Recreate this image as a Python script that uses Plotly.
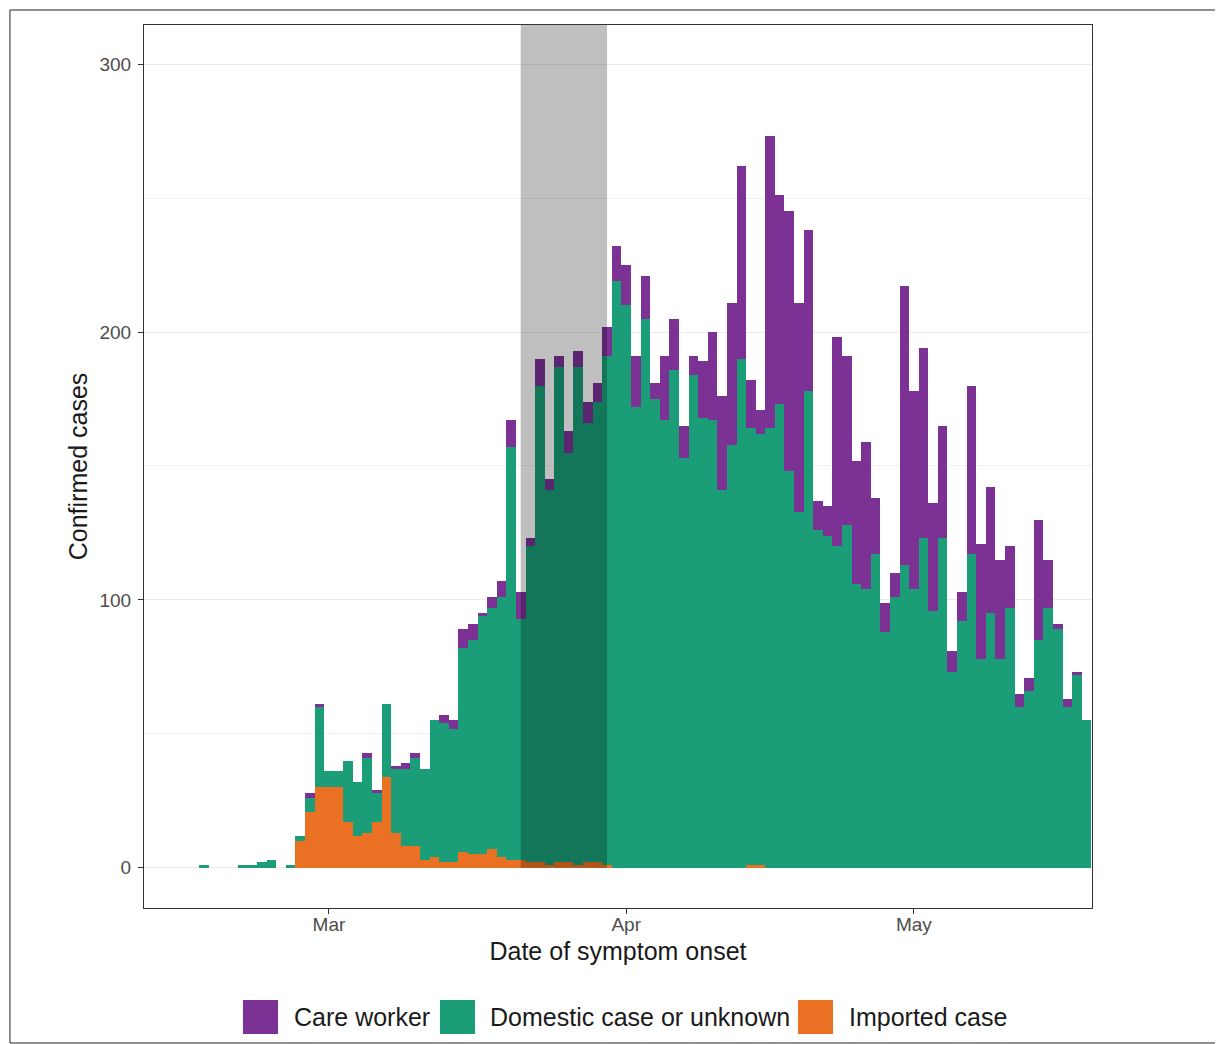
import pandas as pd
import plotly.graph_objects as go

# ---------------- data ----------------
dates = pd.date_range("2020-02-17", "2020-05-19", freq="D").strftime("%Y-%m-%d").tolist()

care_worker = [
    0, 0, 0, 0, 0, 0, 0, 0, 0, 0,
    0, 2, 1, 0, 0, 0, 0, 2, 1, 0, 1, 2, 2, 0,
    0, 3, 3, 7, 6, 1, 4, 6, 10, 10,
    3, 10, 4, 4, 8, 6, 8, 7, 11, 13,
    15, 19, 16, 6, 24, 19, 12, 7, 21, 33,
    35, 53, 72, 18, 9, 109, 78, 97, 78, 60,
    11, 11, 78, 63, 46, 55, 21, 11, 9, 104,
    74, 71, 40, 42, 8, 11, 63, 43, 47, 37,
    23, 5, 5, 45, 18, 2, 3, 1, 0,
]

domestic = [
    1, 0, 0, 0, 1, 1, 2, 3, 0, 1,
    2, 5, 30, 6, 6, 23, 20, 28, 11, 27, 24, 29, 33, 34,
    51, 52, 50, 76, 80, 89, 90, 97, 154, 90,
    118, 178, 140, 185, 153, 186, 164, 172, 190, 219,
    210, 172, 205, 175, 167, 186, 153, 184, 168, 167,
    141, 158, 190, 163, 161, 164, 173, 148, 133, 178,
    126, 124, 120, 128, 106, 104, 117, 88, 101, 113,
    104, 123, 96, 123, 73, 92, 117, 78, 95, 78,
    97, 60, 66, 85, 97, 89, 60, 72, 55,
]

imported = [
    0, 0, 0, 0, 0, 0, 0, 0, 0, 0,
    10, 21, 30, 30, 30, 17, 12, 13, 17, 34, 13, 8, 8, 3,
    4, 2, 2, 6, 5, 5, 7, 4, 3, 3,
    2, 2, 1, 2, 2, 1, 2, 2, 1, 0,
    0, 0, 0, 0, 0, 0, 0, 0, 0, 0,
    0, 0, 0, 1, 1, 0, 0, 0, 0, 0,
    0, 0, 0, 0, 0, 0, 0, 0, 0, 0,
    0, 0, 0, 0, 0, 0, 0, 0, 0, 0,
    0, 0, 0, 0, 0, 0, 0, 0, 0,
]

series_names = ["Care worker", "Domestic case or unknown", "Imported case"]
series_colors = ["#7B3294", "#1B9E77", "#EA7024"]

x_tick_vals = ["2020-03-01", "2020-04-01", "2020-05-01"]
x_tick_text = ["Mar", "Apr", "May"]
y_tick_vals = [0, 100, 200, 300]

shade_start = "2020-03-21"
shade_end = "2020-03-30"

# ---------------- figure ----------------
DAY_MS = 86400000
fig = go.Figure()
# stacking: bottom first
for name, vals, col in [
    (series_names[2], imported, series_colors[2]),
    (series_names[1], domestic, series_colors[1]),
    (series_names[0], care_worker, series_colors[0]),
]:
    fig.add_trace(go.Bar(
        x=dates, y=vals, name=name, width=DAY_MS,
        marker=dict(color=col, line=dict(width=0)),
        showlegend=False,
    ))

Y_MIN, Y_MAX = -15, 314.6

fig.add_shape(type="rect", xref="x", yref="y",
              x0=shade_start, x1=shade_end, y0=0, y1=Y_MAX,
              fillcolor="rgba(0,0,0,0.25)", line=dict(width=0), layer="above")

# outer frame
fig.add_shape(type="rect", xref="paper", yref="paper",
              x0=-0.1414, x1=1.1361, y0=-0.1529, y1=1.017,
              line=dict(color="#222", width=1), fillcolor="rgba(0,0,0,0)", layer="below")

# manual legend (large swatches)
sw_y0, sw_y1 = -0.1427, -0.1042
legend_items = [
    (series_names[0], series_colors[0], 0.1044, 0.1414, 0.1561),
    (series_names[1], series_colors[1], 0.3122, 0.3492, 0.3629),
    (series_names[2], series_colors[2], 0.6899, 0.7268, 0.7416),
]
for name, col, sx0, sx1, tx in legend_items:
    fig.add_shape(type="rect", xref="paper", yref="paper",
                  x0=sx0, x1=sx1, y0=sw_y0, y1=sw_y1,
                  fillcolor=col, line=dict(width=0))
    fig.add_annotation(xref="paper", yref="paper", x=tx, y=(sw_y0 + sw_y1) / 2,
                       text=name, showarrow=False, xanchor="left", yanchor="middle",
                       font=dict(size=25, color="#1a1a1a"))

FONT = "Liberation Sans, Arial, Helvetica, sans-serif"
fig.update_layout(
    width=1215, height=1036,
    margin=dict(l=136, r=131, t=17, b=136),
    paper_bgcolor="white", plot_bgcolor="white",
    barmode="stack", bargap=0,
    font=dict(family=FONT, color="#1a1a1a"),
    showlegend=False,
    xaxis=dict(
        type="date",
        range=["2020-02-10 17:15", "2020-05-19 13:40"],
        tickmode="array", tickvals=x_tick_vals, ticktext=x_tick_text,
        ticks="outside", ticklen=5, tickcolor="#333333",
        tickfont=dict(size=19, color="#4D4D4D"),
        ticklabelstandoff=-6,
        showgrid=False, zeroline=False,
        showline=True, mirror=True, linecolor="#333333", linewidth=1,
        title=dict(text="Date of symptom onset", font=dict(size=25, color="#1a1a1a"), standoff=8),
    ),
    yaxis=dict(
        range=[Y_MIN, Y_MAX],
        tickmode="array", tickvals=y_tick_vals,
        ticks="outside", ticklen=5, tickcolor="#333333",
        tickfont=dict(size=19, color="#4D4D4D"),
        ticklabelstandoff=3,
        showgrid=True, gridcolor="#EBEBEB", gridwidth=1,
        minor=dict(dtick=50, tick0=0, showgrid=True, gridcolor="#EFEFEF", gridwidth=1),
        zeroline=False,
        showline=True, mirror=True, linecolor="#333333", linewidth=1,
        title=dict(text="Confirmed cases", font=dict(size=25, color="#1a1a1a"), standoff=4),
    ),
)

fig.write_html("out.html")
